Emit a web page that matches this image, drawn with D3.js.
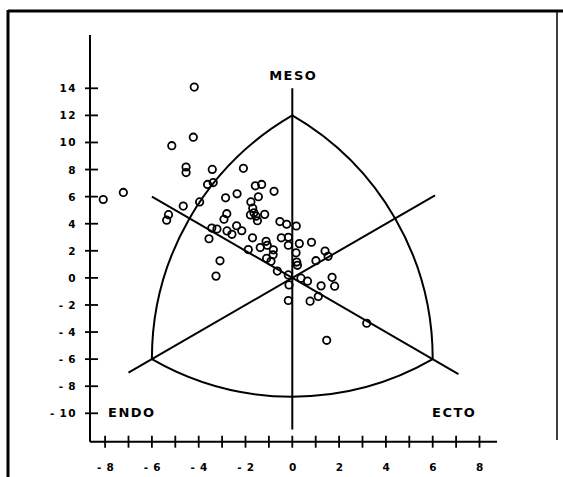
<!DOCTYPE html>
<html><head><meta charset="utf-8">
<script src="https://cdn.jsdelivr.net/npm/d3@7"></script>
<style>body{margin:0;background:#fff}svg{display:block}</style>
</head><body>
<svg id="c" width="563" height="477"></svg>
<script>
// somatotype points [x, y]
const pointsX = [-4.19,-4.23,-5.15,-4.54,-4.54,-3.42,-2.09,-3.62,-3.38,-7.22,-8.08,-2.85,-2.36,-4.66,-3.96,-5.29,-5.37,-2.80,-2.92,-3.44,-3.22,-3.56,-2.38,-2.79,-2.58,-2.16,-3.09,-3.26,-1.58,-1.31,-0.78,-1.45,-1.77,-1.69,-1.64,-1.55,-1.79,-1.18,-1.49,-0.53,-0.24,0.17,-1.70,-1.12,-1.07,-1.37,-1.88,-0.81,-0.82,-0.47,-0.17,-0.17,0.30,0.82,-1.10,-0.91,0.16,0.19,0.22,-0.64,-0.17,1.40,1.53,1.01,0.37,0.65,-0.14,1.23,1.70,1.81,1.11,0.76,-0.17,3.18,1.47];
const pointsY = [14.09,10.39,9.76,8.19,7.78,8.01,8.09,6.90,7.04,6.31,5.79,5.91,6.21,5.30,5.61,4.67,4.26,4.74,4.33,3.68,3.61,2.89,3.85,3.47,3.22,3.48,1.26,0.13,6.80,6.90,6.39,5.99,5.61,5.15,4.81,4.56,4.65,4.69,4.22,4.16,3.96,3.83,2.96,2.70,2.41,2.24,2.09,2.07,1.70,2.96,3.00,2.41,2.53,2.63,1.44,1.22,1.85,1.17,0.93,0.50,0.22,1.98,1.59,1.27,-0.02,-0.24,-0.52,-0.59,0.04,-0.61,-1.37,-1.72,-1.67,-3.35,-4.61];
const xTicks = d3.range(-8, 9, 1);
const xLabels = [-8,-6,-4,-2,0,2,4,6,8];
const yTicks = [14,12,10,8,6,4,2,0,-2,-4,-6,-8,-10];
// somatochart vertices
const vertexNames = ["MESO","ENDO","ECTO"];
const vertexX = [0,-6,6];
const vertexY = [12,-6,-6];
// axis lines through the origin [x1,y1,x2,y2]
const axisLines = [[0,14,0,-11.2],[-7,-7,6.1,6.1],[-6,6,7.1,-7.1]];

const svg = d3.select("#c");
const x = d3.scaleLinear().domain([-8,8]).range([105.1,479.5]);
const y = d3.scaleLinear().domain([-10,14]).range([413.3,88.3]);
const ax = 90, ay = 441.7;

// frame
svg.append("line").attr("x1",8).attr("y1",11).attr("x2",563).attr("y2",11).attr("stroke","#000").attr("stroke-width",3);
svg.append("line").attr("x1",8).attr("y1",10).attr("x2",8).attr("y2",477).attr("stroke","#000").attr("stroke-width",3);
svg.append("line").attr("x1",557).attr("y1",10).attr("x2",557).attr("y2",440).attr("stroke","#000").attr("stroke-width",1.5);

const fnt = "DejaVu Sans, sans-serif";
const fmt = t => (t < 0 ? "-\u2009" + Math.abs(t) : String(t));
// y axis
svg.append("line").attr("x1",ax).attr("y1",35).attr("x2",ax).attr("y2",ay).attr("stroke","#000").attr("stroke-width",2);
yTicks.forEach(t=>{
  svg.append("line").attr("x1",ax-5).attr("x2",ax+8).attr("y1",y(t)).attr("y2",y(t)).attr("stroke","#000").attr("stroke-width",1.8);
  svg.append("text").attr("x",77).attr("y",y(t)+4).attr("text-anchor","end")
    .attr("font-family",fnt).attr("font-weight","bold").attr("font-size",10.5).attr("letter-spacing",1.5).text(fmt(t));
});
// x axis
svg.append("line").attr("x1",ax).attr("y1",ay).attr("x2",497).attr("y2",ay).attr("stroke","#000").attr("stroke-width",2);
xTicks.forEach(t=>{
  svg.append("line").attr("x1",x(t)).attr("x2",x(t)).attr("y1",ay-6).attr("y2",ay+6).attr("stroke","#000").attr("stroke-width",1.8);
});
xLabels.forEach(t=>{
  svg.append("text").attr("x",x(t)+1).attr("y",471).attr("text-anchor","middle")
    .attr("font-family",fnt).attr("font-weight","bold").attr("font-size",10.5).attr("letter-spacing",1.5).text(fmt(t));
});

// Reuleaux triangle
const V = vertexX.map((vx,i)=>[x(vx), y(vertexY[i])]);
const r = Math.hypot(V[0][0]-V[1][0], V[0][1]-V[1][1]);
const path = `M${V[0][0]},${V[0][1]} A${r},${r} 0 0 0 ${V[1][0]},${V[1][1]} A${r},${r} 0 0 0 ${V[2][0]},${V[2][1]} A${r},${r} 0 0 0 ${V[0][0]},${V[0][1]}`;
svg.append("path").attr("d",path).attr("fill","none").attr("stroke","#000").attr("stroke-width",2);

axisLines.forEach(l=>{
  svg.append("line").attr("x1",x(l[0])).attr("y1",y(l[1])).attr("x2",x(l[2])).attr("y2",y(l[3])).attr("stroke","#000").attr("stroke-width",2);
});

// labels
const lab = {"font-family":fnt,"font-size":13,"font-weight":"bold","letter-spacing":1.5};
function addLabel(t,xx,yy,anchor){
  const e = svg.append("text").attr("x",xx).attr("y",yy).attr("text-anchor",anchor).text(t);
  Object.entries(lab).forEach(([k,v])=>e.attr(k,v));
}
addLabel(vertexNames[0], x(0)+1, 80, "middle");
addLabel(vertexNames[1], 108, 417, "start");
addLabel(vertexNames[2], 432, 417, "start");

// points
svg.append("g").selectAll("circle").data(pointsX).join("circle")
  .attr("cx",(d)=>x(d)).attr("cy",(d,i)=>y(pointsY[i])).attr("r",3.7)
  .attr("fill","none").attr("stroke","#000").attr("stroke-width",1.8);
</script>
</body></html>
